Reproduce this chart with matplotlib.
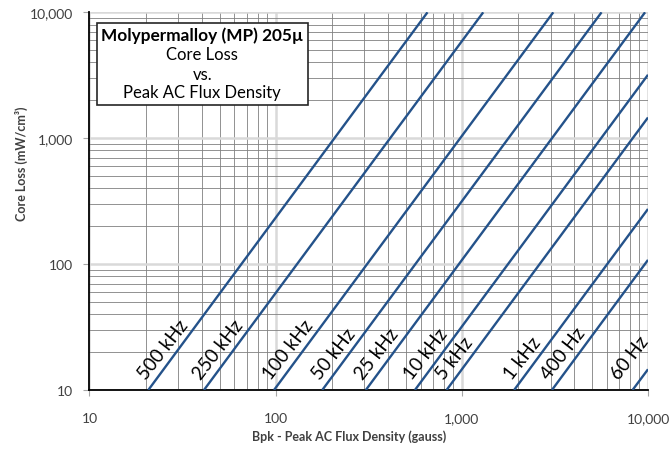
import matplotlib
matplotlib.use("Agg")
import matplotlib.pyplot as plt
from matplotlib.patches import Rectangle
from matplotlib.ticker import FixedLocator, FuncFormatter, LogLocator, NullFormatter
import numpy as np

plt.rcParams['font.family'] = ['Lato', 'DejaVu Sans']

# Core loss lines (log-log), one per excitation frequency
freq_labels = ["500 kHz", "250 kHz", "100 kHz", "50 kHz", "25 kHz",
               "10 kHz", "5 kHz", "1 kHz", "400 Hz", "60 Hz"]
b_start = [20.7, 41.2, 98, 178, 305, 560, 828, 1910, 3048, 8262]   # gauss
p_start = [10, 10, 10, 10, 10, 10, 10, 10, 10, 10]                 # mW/cm^3
b_end = [654, 1303, 3099, 5629, 9645, 10000, 10000, 10000, 10000, 10000]
p_end = [10000, 10000, 10000, 10000, 10000, 3190, 1460, 274, 108, 14.6]

x_ticks = [10, 100, 1000, 10000]
y_ticks = [10, 100, 1000, 10000]
label_loss = 12.0   # loss level at which each frequency label starts

line_color = '#24528a'

W, H = 669, 452
fig = plt.figure(figsize=(W / 100, H / 100), dpi=100)
ax_l, ax_r, ax_t, ax_b = 89.5, 648, 13.3, 391
ax = fig.add_axes([ax_l / W, 1 - ax_b / H, (ax_r - ax_l) / W, (ax_b - ax_t) / H])

ax.set_xscale('log')
ax.set_yscale('log')
ax.set_xlim(10, 10000)
ax.set_ylim(10, 10000)

ax.xaxis.set_major_locator(FixedLocator(x_ticks))
ax.yaxis.set_major_locator(FixedLocator(y_ticks))
ax.xaxis.set_minor_locator(LogLocator(base=10, subs=np.arange(2, 10)))
ax.yaxis.set_minor_locator(LogLocator(base=10, subs=np.arange(2, 10)))
fmt = FuncFormatter(lambda v, _: f"{v:,.0f}")
ax.xaxis.set_major_formatter(fmt)
ax.yaxis.set_major_formatter(fmt)
ax.xaxis.set_minor_formatter(NullFormatter())
ax.yaxis.set_minor_formatter(NullFormatter())

ax.set_axisbelow(True)
ax.grid(which='major', color='#d9d9d9', linewidth=1.8)
ax.grid(which='minor', color='#808080', linewidth=0.6)

for s in ('top', 'right'):
    ax.spines[s].set_visible(False)
for s in ('left', 'bottom'):
    ax.spines[s].set_color('black')
    ax.spines[s].set_linewidth(1.3)

ax.tick_params(which='major', direction='out', length=4, width=0.8,
               color='#a6a6a6', labelcolor='#404040', labelsize=10)
ax.tick_params(axis='y', which='major', pad=8)
ax.tick_params(axis='x', which='major', pad=12)
ax.tick_params(which='minor', length=0)

# horizontal shift (pixels) of each label's start, left of its line
label_dx = {lab: -10 for lab in freq_labels}
label_dx["60 Hz"] = -21

for lab, b0, p0, b1, p1 in zip(freq_labels, b_start, p_start, b_end, p_end):
    ax.plot([b0, b1], [p0, p1], color=line_color, linewidth=1.7,
            solid_capstyle='butt', clip_on=True, zorder=3)
    # point on the line where the label begins
    t = (np.log10(label_loss) - np.log10(p0)) / (np.log10(p1) - np.log10(p0))
    bx = 10 ** (np.log10(b0) + t * (np.log10(b1) - np.log10(b0)))
    ax.annotate(lab, xy=(bx, label_loss), xytext=(label_dx[lab] * 0.72, 0),
                textcoords='offset points', rotation=52, rotation_mode='anchor',
                ha='left', va='baseline', fontsize=13.5, color='black', zorder=4)

# title box
bx0, by0, bx1, by1 = 96.7, 24, 307.7, 106
def fx(px):
    return (px - ax_l) / (ax_r - ax_l)
def fy(py):
    return (ax_b - py) / (ax_b - ax_t)
ax.add_patch(Rectangle((fx(bx0), fy(by1)), fx(bx1) - fx(bx0), fy(by0) - fy(by1),
                       transform=ax.transAxes, facecolor='white', edgecolor='#262626',
                       linewidth=1.2, zorder=5))
cx = fx((bx0 + bx1) / 2)
ax.text(cx, fy(36), "Molypermalloy (MP) 205µ", transform=ax.transAxes, ha='center',
        va='center', fontsize=12.4, fontweight='bold', zorder=6)
for txt, py in [("Core Loss", 55), ("vs.", 75), ("Peak AC Flux Density", 92.7)]:
    ax.text(cx, fy(py), txt, transform=ax.transAxes, ha='center', va='center',
            fontsize=12, zorder=6)

fig.text(21.7 / W, 1 - 164 / H, "Core Loss (mW/cm³)", rotation=90, ha='center',
         va='center', fontsize=9, fontweight='bold', color='#404040')
fig.text(349 / W, 1 - 437 / H, "Bpk - Peak AC Flux Density (gauss)", ha='center',
         va='center', fontsize=9, fontweight='bold', color='#404040')

fig.savefig("out.png", dpi=100)
